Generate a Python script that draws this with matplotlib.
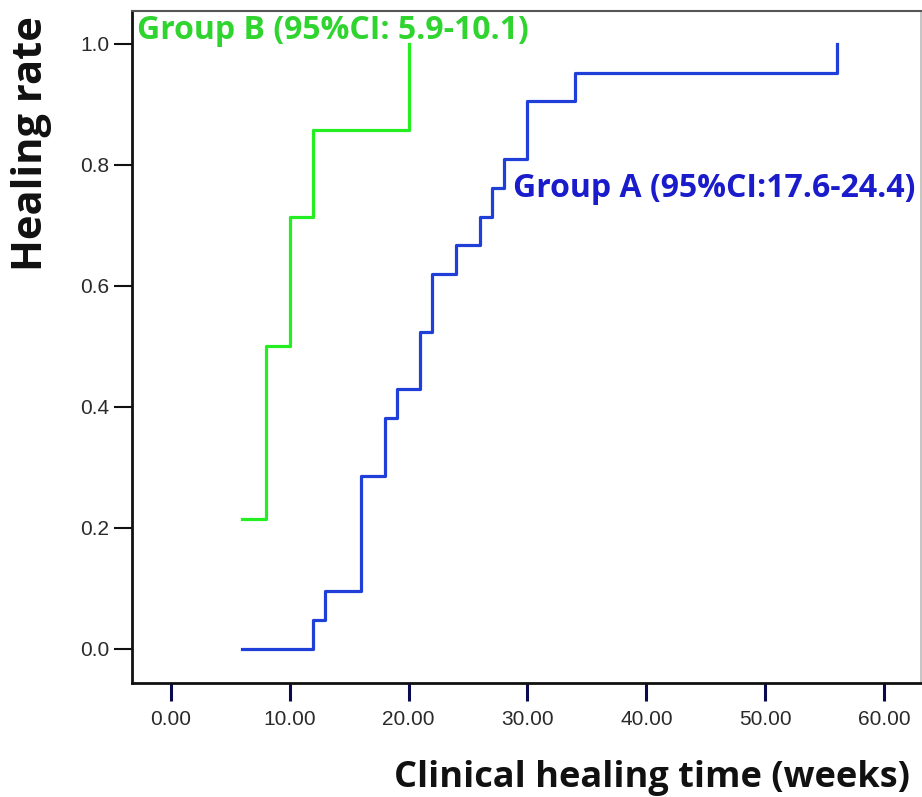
import matplotlib.pyplot as plt

# Cumulative healing curves (step data)
time_a = [6, 12, 13, 16, 18, 19, 21, 22, 24, 26, 27, 28, 30, 34, 56]
rate_a = [0.000, 0.048, 0.095, 0.286, 0.381, 0.429, 0.524, 0.619,
          0.667, 0.714, 0.762, 0.810, 0.905, 0.952, 1.000]

time_b = [6, 8, 10, 12, 20]
rate_b = [0.214, 0.500, 0.714, 0.857, 1.000]

label_a = 'Group A (95%CI:17.6-24.4)'
label_b = 'Group B (95%CI: 5.9-10.1)'

x_ticks = [0, 10, 20, 30, 40, 50, 60]
y_ticks = [0.0, 0.2, 0.4, 0.6, 0.8, 1.0]

green_line = '#22ee22'
green_text = '#2fd42f'
blue_line = '#1f3fd8'
blue_text = '#1a1ccc'

fig = plt.figure(figsize=(9.22, 7.97), dpi=100)
ax = fig.add_axes([0.1428, 0.1434, 0.8562, 0.8428])

ax.step(time_a, rate_a, where='post', color=blue_line, lw=2.3)
ax.step(time_b, rate_b, where='post', color=green_line, lw=2.3)

ax.set_xlim(-3.28, 63.1)
ax.set_ylim(-0.056, 1.054)

ax.set_xticks(x_ticks)
ax.set_xticklabels(['%.2f' % v for v in x_ticks])
ax.set_yticks(y_ticks)
ax.set_yticklabels(['%.1f' % v for v in y_ticks])

for lab in ax.get_xticklabels() + ax.get_yticklabels():
    lab.set_family('Liberation Sans')
    lab.set_fontsize(15)
    lab.set_color('#2a2a2a')

ax.tick_params(axis='x', direction='out', length=13, width=2.2,
               color='#0a0a50', pad=7)
ax.tick_params(axis='y', direction='out', length=13, width=1.5,
               color='#111111', pad=3)

ax.spines['left'].set_linewidth(2)
ax.spines['bottom'].set_linewidth(2)
ax.spines['left'].set_color('#111111')
ax.spines['bottom'].set_color('#111111')
ax.spines['top'].set_color('#555555')
ax.spines['top'].set_linewidth(1.5)
ax.spines['right'].set_color('#bbbbbb')
ax.spines['right'].set_linewidth(1.2)

ax.text(-2.83, 1.007, label_b, color=green_text, fontsize=23,
        fontweight='bold', family='Open Sans', va='baseline', ha='left')
ax.text(28.8, 0.746, label_a, color=blue_text, fontsize=23,
        fontweight='bold', family='Open Sans', va='baseline', ha='left')

fig.text(32 / 922, 1 - 144 / 797, 'Healing rate', rotation=90,
         fontsize=30, fontweight='bold', family='Open Sans',
         ha='center', va='center', color='#111111')
fig.text(652 / 922, 1 - 787 / 797, 'Clinical healing time (weeks)',
         fontsize=26, fontweight='bold', family='Open Sans',
         ha='center', va='baseline', color='#111111')

fig.savefig('out.png', dpi=100)
